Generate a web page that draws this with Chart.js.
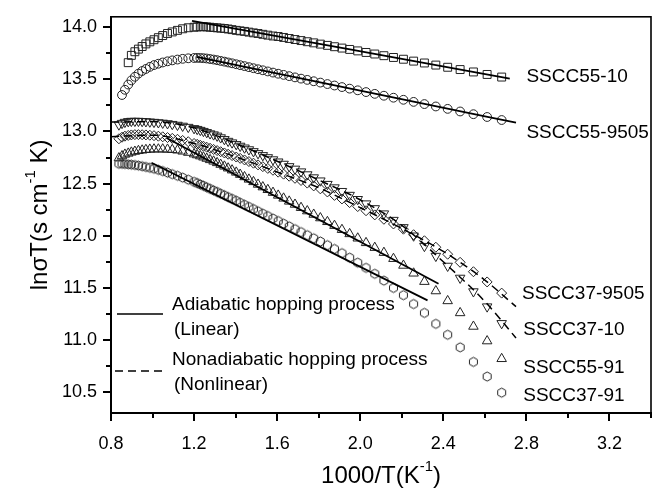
<!DOCTYPE html>
<html><head><meta charset="utf-8">
<script src="https://cdn.jsdelivr.net/npm/chart.js@4.4.0/dist/chart.umd.min.js"></script>
<style>html,body{margin:0;padding:0;background:#fff;} canvas{display:block;}</style>
</head><body>
<canvas id="c" width="658" height="490"></canvas>
<script>
// ---------------- data ----------------
const xVals = [0.838,0.853,0.867,0.883,0.898,0.915,0.932,0.950,0.968,0.987,1.007,1.028,1.049,1.072,1.095,1.120,1.145,1.172,1.200,
  1.215,1.230,1.245,1.261,1.277,1.294,1.311,1.328,1.346,1.364,1.383,1.403,1.422,1.443,1.464,1.486,1.508,1.531,1.555,1.580,
  1.605,1.631,1.658,1.686,1.715,1.745,1.776,1.808,1.842,1.876,1.912,1.949,1.988,2.028,2.070,2.114,2.160,2.208,2.257,2.309,
  2.364,2.421,2.481,2.545,2.611,2.681];

const ySSCC55_10 = [null,null,null,13.66,13.73,13.765,13.79,13.815,13.84,13.86,13.88,13.90,13.92,13.94,13.955,13.97,13.985,13.995,14.0,
  14.003,14.005,14.005,14.003,14.0,13.997,13.994,13.991,13.988,13.983,13.977,13.97,13.965,13.96,13.953,13.946,13.94,13.932,13.924,13.916,
  13.911,13.902,13.892,13.882,13.872,13.861,13.85,13.838,13.826,13.813,13.80,13.787,13.773,13.758,13.743,13.727,13.71,13.693,13.675,13.657,
  13.637,13.616,13.594,13.571,13.547,13.522];

const ySSCC55_9505 = [null,13.35,13.40,13.45,13.49,13.525,13.555,13.58,13.60,13.62,13.637,13.65,13.662,13.673,13.682,13.69,13.697,13.702,13.705,
  13.706,13.705,13.703,13.70,13.695,13.69,13.684,13.677,13.67,13.662,13.654,13.645,13.636,13.627,13.617,13.607,13.597,13.587,13.576,13.565,
  13.554,13.543,13.531,13.519,13.507,13.495,13.482,13.469,13.455,13.441,13.426,13.411,13.395,13.378,13.361,13.343,13.324,13.304,13.284,13.263,
  13.24,13.217,13.192,13.166,13.139,13.11];

const ySSCC37_9505 = [12.93,12.945,12.955,12.962,12.967,12.97,12.97,12.969,12.967,12.964,12.96,12.955,12.949,12.942,12.934,12.925,12.914,12.902,12.885,
  12.877,12.868,12.859,12.849,12.839,12.828,12.817,12.806,12.794,12.782,12.769,12.755,12.742,12.727,12.712,12.696,12.68,12.663,12.646,12.628,
  12.61,12.591,12.571,12.551,12.53,12.505,12.478,12.45,12.42,12.387,12.353,12.318,12.28,12.24,12.2,12.158,12.113,12.063,12.01,11.952,
  11.89,11.823,11.745,11.655,11.557,11.45];

const ySSCC37_10 = [13.065,13.08,13.09,13.097,13.10,13.10,13.10,13.098,13.096,13.093,13.09,13.086,13.082,13.077,13.07,13.062,13.053,13.042,13.03,
  13.022,13.013,13.003,12.992,12.98,12.97,12.958,12.942,12.925,12.908,12.893,12.877,12.861,12.844,12.827,12.809,12.79,12.771,12.751,12.731,
  12.71,12.688,12.665,12.641,12.615,12.587,12.558,12.528,12.495,12.462,12.427,12.39,12.35,12.308,12.262,12.212,12.15,12.08,12.0,11.90,
  11.805,11.71,11.595,11.465,11.32,11.16];

const ySSCC55_91 = [12.745,12.765,12.78,12.79,12.80,12.808,12.815,12.82,12.825,12.828,12.83,12.83,12.83,12.828,12.825,12.82,12.81,12.798,12.783,
  12.774,12.764,12.753,12.741,12.728,12.714,12.699,12.683,12.666,12.648,12.629,12.608,12.587,12.564,12.541,12.517,12.492,12.467,12.441,12.414,
  12.387,12.359,12.33,12.30,12.269,12.237,12.204,12.17,12.134,12.097,12.058,12.018,11.976,11.932,11.886,11.838,11.78,11.715,11.64,11.56,
  11.47,11.375,11.26,11.13,10.99,10.82];

const ySSCC37_91 = [12.69,12.69,12.688,12.685,12.682,12.678,12.673,12.667,12.66,12.652,12.643,12.632,12.62,12.606,12.591,12.575,12.558,12.538,12.517,
  12.505,12.492,12.479,12.465,12.45,12.435,12.42,12.404,12.388,12.371,12.354,12.336,12.317,12.297,12.277,12.256,12.235,12.212,12.189,12.165,
  12.141,12.116,12.09,12.063,12.035,12.006,11.976,11.945,11.91,11.873,11.833,11.79,11.742,11.692,11.635,11.57,11.50,11.43,11.345,11.26,
  11.155,11.05,10.93,10.79,10.65,10.495];

// linear fits (solid) : end points
const fit55_10x = [1.19, 2.72],   fit55_10y = [14.062, 13.508];
const fit55_9505x = [1.212, 2.75], fit55_9505y = [13.716, 13.085];
const fit55_91x = [1.068, 2.377], fit55_91y = [12.937, 11.54];
const fit37_91x = [0.995, 2.324], fit37_91y = [12.70, 11.38];
// nonlinear fits (dashed)
const fitNLx = [0.8, 1.0, 1.2, 1.4, 1.6, 1.8, 2.0, 2.2, 2.4, 2.6, 2.75];
const fit37_10y   = [13.09, 13.095, 13.035, 12.885, 12.715, 12.535, 12.345, 12.10, 11.75, 11.37, 11.02];
const fit37_9505y = [12.95, 12.965, 12.885, 12.757, 12.612, 12.46, 12.27, 12.07, 11.85, 11.575, 11.32];

const xTicks = [0.8, 1.2, 1.6, 2.0, 2.4, 2.8, 3.2];
const xMinor = [1.0, 1.4, 1.8, 2.2, 2.6, 3.0, 3.4];
const yTicks = [10.5, 11.0, 11.5, 12.0, 12.5, 13.0, 13.5, 14.0];
const yMinor = [10.75, 11.25, 11.75, 12.25, 12.75, 13.25, 13.75];

const seriesLabels = ['SSCC55-10','SSCC55-9505','SSCC37-9505','SSCC37-10','SSCC55-91','SSCC37-91'];
// label anchor (data coordinates)
const labelX = [2.80, 2.80, 2.779, 2.785, 2.785, 2.785];
const labelY = [13.525, 12.99, 11.444, 11.099, 10.737, 10.47];

// ---------------- rendering ----------------
const FONT = '"Liberation Sans", Arial, Helvetica, sans-serif';
Chart.defaults.font.family = FONT;
Chart.defaults.color = '#000';

const pts = ys => xVals.map((x, i) => ys[i] == null ? null : {x: x, y: ys[i]}).filter(p => p);
const lp = (xs, ys) => xs.map((x, i) => ({x: x, y: ys[i]}));

function makeHex(r) {
  const c = document.createElement('canvas');
  const s = Math.ceil(2 * r + 3);
  c.width = s; c.height = s;
  const g = c.getContext('2d');
  g.strokeStyle = '#222'; g.lineWidth = 1;
  g.beginPath();
  for (let i = 0; i < 6; i++) {
    const a = Math.PI / 2 + i * Math.PI / 3;
    const px = s / 2 + r * Math.cos(a), py = s / 2 + r * Math.sin(a);
    if (i === 0) g.moveTo(px, py); else g.lineTo(px, py);
  }
  g.closePath(); g.stroke();
  return c;
}
const hex = makeHex(4.6);

const MK = '#222';
function markerSet(label, ys, style, r, rot) {
  return {label, data: pts(ys), showLine: false, order: 2,
    pointStyle: style, pointRadius: r, pointRotation: rot || 0,
    pointBorderColor: MK, pointBackgroundColor: 'rgba(0,0,0,0)', pointBorderWidth: 1};
}
function fitSet(xs, ys, dashed) {
  return {data: lp(xs, ys), showLine: true, order: 1, pointRadius: 0,
    borderColor: '#000', borderWidth: dashed ? 1.5 : 1.8, borderDash: dashed ? [8, 5] : [],
    cubicInterpolationMode: 'monotone', fill: false};
}

const decor = {
  id: 'decor',
  afterDraw(chart) {
    const {ctx, chartArea: a, scales: {x, y}} = chart;
    ctx.save();
    // frame
    ctx.strokeStyle = '#000'; ctx.lineWidth = 1.6;
    ctx.strokeRect(a.left, a.top, a.right - a.left, a.bottom - a.top);
    // minor ticks
    ctx.lineWidth = 2; ctx.beginPath();
    xMinor.forEach(v => { const p = Math.round(x.getPixelForValue(v)); ctx.moveTo(p, a.bottom); ctx.lineTo(p, a.bottom + 5); });
    yMinor.forEach(v => { const p = Math.round(y.getPixelForValue(v)); ctx.moveTo(a.left, p); ctx.lineTo(a.left - 5, p); });
    ctx.stroke();

    ctx.fillStyle = '#000';
    ctx.textBaseline = 'middle';
    // series labels
    ctx.font = '19px ' + FONT; ctx.textAlign = 'left';
    seriesLabels.forEach((t, i) => ctx.fillText(t, x.getPixelForValue(labelX[i]), y.getPixelForValue(labelY[i])));

    // legend
    ctx.lineWidth = 1.6; ctx.setLineDash([]);
    ctx.beginPath(); ctx.moveTo(a.left + 6, 314); ctx.lineTo(a.left + 52, 314); ctx.stroke();
    ctx.setLineDash([8, 5]);
    ctx.beginPath(); ctx.moveTo(a.left + 4, 371); ctx.lineTo(a.left + 54, 371); ctx.stroke();
    ctx.setLineDash([]);
    ctx.fillText('Adiabatic hopping process', 172, 305);
    ctx.fillText('(Linear)', 174, 330);
    ctx.fillText('Nonadiabatic hopping process', 172, 360);
    ctx.fillText('(Nonlinear)', 174, 385);

    // axis titles with superscripts
    function rich(parts, cx, cy, size) {
      let w = 0;
      parts.forEach(p => { ctx.font = (p[1] ? size * 0.62 : size) + 'px ' + FONT; w += ctx.measureText(p[0]).width; });
      let cur = cx - w / 2;
      ctx.textAlign = 'left';
      parts.forEach(p => {
        ctx.font = (p[1] ? size * 0.62 : size) + 'px ' + FONT;
        ctx.fillText(p[0], cur, p[1] ? cy - size * 0.38 : cy);
        cur += ctx.measureText(p[0]).width;
      });
    }
    rich([['1000/T(K', 0], ['-1', 1], [')', 0]], (a.left + a.right) / 2, 476, 24);
    ctx.translate(40, (a.top + a.bottom) / 2);
    ctx.rotate(-Math.PI / 2);
    rich([['ln\u03C3T(s cm', 0], ['-1', 1], [' K)', 0]], 0, 0, 24);
    ctx.restore();
  }
};

new Chart(document.getElementById('c'), {
  type: 'scatter',
  data: {datasets: [
    markerSet('SSCC55-10', ySSCC55_10, 'rect', 5.6),
    markerSet('SSCC55-9505', ySSCC55_9505, 'circle', 4.4),
    markerSet('SSCC37-9505', ySSCC37_9505, 'rectRot', 5),
    markerSet('SSCC37-10', ySSCC37_10, 'triangle', 5.5, 180),
    markerSet('SSCC55-91', ySSCC55_91, 'triangle', 5.5),
    markerSet('SSCC37-91', ySSCC37_91, hex, 4.6),
    fitSet(fit55_10x, fit55_10y, false),
    fitSet(fit55_9505x, fit55_9505y, false),
    fitSet(fit55_91x, fit55_91y, false),
    fitSet(fit37_91x, fit37_91y, false),
    fitSet(fitNLx, fit37_10y, true),
    fitSet(fitNLx, fit37_9505y, true)
  ]},
  options: {
    responsive: false, animation: false, events: [],
    layout: {padding: {left: 0, top: 10, right: 7, bottom: 0}},
    plugins: {legend: {display: false}, tooltip: {enabled: false}},
    scales: {
      x: {type: 'linear', min: 0.8, max: 3.4,
        afterBuildTicks: s => { s.ticks = xTicks.map(v => ({value: v})); },
        afterFit: s => { s.height = 77; },
        ticks: {callback: v => v.toFixed(1), font: {size: 18}, padding: 12, maxRotation: 0, autoSkip: false, color: '#000'},
        grid: {drawOnChartArea: false, drawTicks: true, tickLength: 8, color: '#000', lineWidth: 2},
        border: {display: true, color: '#000', width: 2}},
      y: {type: 'linear', min: 10.3, max: 14.1,
        afterBuildTicks: s => { s.ticks = yTicks.map(v => ({value: v})); },
        afterFit: s => { s.width = 111; },
        ticks: {callback: v => v.toFixed(1), font: {size: 18}, padding: 6, autoSkip: false, color: '#000'},
        grid: {drawOnChartArea: false, drawTicks: true, tickLength: 8, color: '#000', lineWidth: 2},
        border: {display: true, color: '#000', width: 2}}
    }
  },
  plugins: [decor]
});
</script>
</body></html>
